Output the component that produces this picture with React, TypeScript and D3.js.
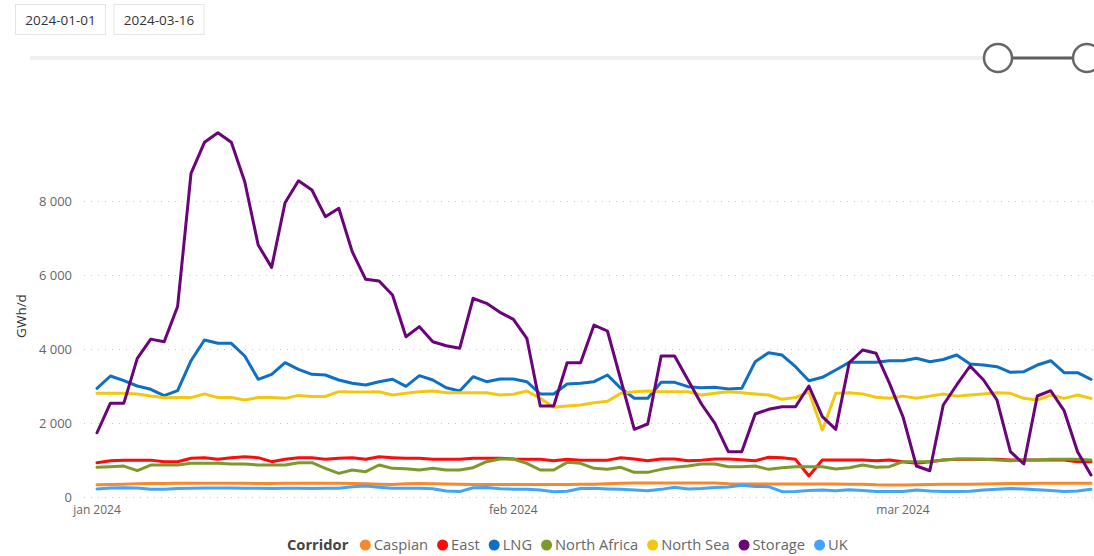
import React, { useMemo } from "react";
import * as d3 from "d3";

const startDate = "2024-01-01";
const endDate = "2024-03-15";
const slicerLabels = ["2024-01-01", "2024-03-16"];
const yTicks = [0, 2000, 4000, 6000, 8000];
const xTickDates = ["2024-01-01", "2024-02-01", "2024-03-01"];
const xTickLabels = ["jan 2024", "feb 2024", "mar 2024"];
const yAxisTitle = "GWh/d";
const legendTitle = "Corridor";

const seriesNames = ["Caspian", "East", "LNG", "North Africa", "North Sea", "Storage", "UK"];
const seriesColors = ["#F5892B", "#FF0A0A", "#0F6FC2", "#7A9A2B", "#F2C80F", "#6B037B", "#41A4FF"];

const caspian = [346,350,360,375,380,380,382,383,383,383,383,383,380,380,383,383,383,383,383,378,370,360,350,372,380,375,362,355,350,350,350,352,352,350,350,352,355,360,372,385,392,395,395,395,395,395,390,372,365,364,364,364,364,364,364,362,360,355,342,340,340,345,350,355,360,360,365,372,378,380,383,383,383,383,383];
const east = [941,995,1010,1010,1010,968,968,1059,1077,1032,1077,1100,1077,968,1032,1077,1077,1032,1059,1077,1032,1100,1077,1059,1059,1032,1032,1032,1059,1059,1059,1040,1032,1032,995,1032,1010,1010,1010,1077,1040,995,1040,1040,995,1010,1040,1040,1020,995,1086,1077,1032,581,1014,1014,1014,1014,995,1014,968,923,968,1014,1032,1032,1032,1032,1014,1014,1014,1014,1014,968,968];
const lng = [2951,3284,3157,3014,2924,2751,2886,3697,4257,4167,4167,3824,3195,3330,3643,3465,3330,3311,3176,3086,3041,3130,3195,3005,3292,3176,2968,2878,3265,3130,3203,3203,3130,2797,2797,3068,3086,3130,3311,2951,2681,2681,3113,3113,2995,2968,2977,2932,2950,3670,3914,3851,3535,3157,3248,3446,3653,3653,3653,3697,3697,3762,3670,3730,3851,3608,3580,3535,3384,3400,3580,3697,3375,3375,3195];
const northAfrica = [816,833,850,725,878,878,878,923,923,923,905,905,878,878,878,940,940,788,653,743,698,878,788,775,743,788,743,743,806,968,1040,1040,923,743,743,950,923,788,761,815,680,680,761,815,850,905,905,833,833,850,761,806,833,833,833,770,806,878,815,833,968,968,968,1014,1040,1040,1032,1014,995,1014,1014,1032,1032,1032,1014];
const northSea = [2815,2815,2815,2800,2743,2697,2700,2700,2800,2700,2700,2635,2700,2700,2680,2760,2730,2730,2860,2850,2850,2860,2770,2815,2860,2878,2830,2830,2830,2830,2770,2790,2878,2681,2438,2470,2500,2563,2600,2815,2860,2878,2860,2860,2860,2770,2815,2860,2830,2800,2770,2653,2700,2860,1824,2815,2830,2800,2710,2680,2740,2680,2740,2800,2740,2770,2800,2830,2815,2680,2635,2770,2680,2770,2680];
const storage = [1750,2550,2550,3760,4280,4210,5160,8760,9600,9860,9600,8535,6824,6220,7968,8562,8311,7590,7816,6644,5897,5851,5473,4346,4617,4211,4103,4032,5384,5249,5005,4816,4303,2473,2473,3643,3643,4662,4500,3176,1843,1986,3824,3824,3176,2527,2005,1238,1238,2257,2384,2454,2454,3014,2184,1843,3643,3986,3897,3086,2184,851,724,2500,3041,3554,3176,2635,1238,905,2743,2886,2346,1238,608];
const uk = [230,255,262,255,225,221,240,250,255,260,258,252,248,245,250,248,245,248,250,290,311,280,250,248,248,235,175,160,265,270,235,225,220,200,158,170,245,248,232,220,200,185,220,275,232,240,268,285,333,300,293,158,165,190,200,185,210,190,160,165,160,200,175,160,165,170,200,220,240,230,210,190,160,175,221];

const seriesValues = [caspian, east, lng, northAfrica, northSea, storage, uk];

const W = 1094;
const H = 556;
const FONT = "'Open Sans', 'Segoe UI', sans-serif";
const LEGEND_FS = 14.7;

function measure(text: string, font: string): number {
  const c = document.createElement("canvas").getContext("2d");
  if (!c) return text.length * 7;
  c.font = font;
  return c.measureText(text).width;
}

export default function App() {
  const parse = d3.timeParse("%Y-%m-%d");
  const days = d3.timeDay.range(parse(startDate)!, d3.timeDay.offset(parse(endDate)!, 1));

  const x = d3.scaleTime().domain([days[0], days[days.length - 1]]).range([97, 1091]);
  const y = d3.scaleLinear().domain([0, 8000]).range([497.5, 201.5]);

  const fmt = (v: number) => d3.format(",")(v).replace(/,/g, " ");

  const line = (vals: number[]) =>
    d3
      .line<number>()
      .x((_, i) => x(days[i]))
      .y((v) => y(v))(vals) || "";

  const legend = useMemo(() => {
    const items: { name: string; color: string; cx: number; tx: number }[] = [];
    const titleFont = `bold ${LEGEND_FS}px ${FONT}`;
    const itemFont = `${LEGEND_FS}px ${FONT}`;
    const titleW = measure(legendTitle, titleFont);
    const itemWs = seriesNames.map((n) => measure(n, itemFont));
    let pos = 287;
    const titleX = pos;
    pos += titleW + 17;
    seriesNames.forEach((n, i) => {
      items.push({ name: n, color: seriesColors[i], cx: pos, tx: pos + 8.5 });
      pos += 8.5 + itemWs[i] + 14.5;
    });
    return { titleX, items };
  }, []);

  return (
    <svg
      width={W}
      height={H}
      style={{ position: "absolute", left: 0, top: 0, background: "#fff", fontFamily: FONT }}
    >
      {slicerLabels.map((t, i) => (
        <g key={t} transform={`translate(${15.5 + i * 98.5},4.5)`}>
          <rect width={90} height={30} fill="#fff" stroke="#e4e4e4" strokeWidth={1} />
          <text x={45} y={20} textAnchor="middle" fontSize={13.5} fill="#333">
            {t}
          </text>
        </g>
      ))}
      <line x1={30} x2={984} y1={58} y2={58} stroke="#efefef" strokeWidth={4} />
      <line x1={998} x2={1086} y1={58} y2={58} stroke="#5f5f5f" strokeWidth={3} />
      <circle cx={998} cy={58} r={14} fill="#fff" stroke="#666" strokeWidth={2.5} />
      <circle cx={1087} cy={58} r={14} fill="#fff" stroke="#666" strokeWidth={2.5} />

      {yTicks.map((t) => (
        <g key={t}>
          <line
            x1={84}
            x2={W}
            y1={y(t)}
            y2={y(t)}
            stroke="#c8c8c8"
            strokeWidth={1}
            strokeDasharray="1,6"
          />
          <text x={72} y={y(t) + 4.5} textAnchor="end" fontSize={13} fill="#666">
            {fmt(t)}
          </text>
        </g>
      ))}
      <text
        transform={`translate(26,316) rotate(-90)`}
        textAnchor="middle"
        fontSize={13.5}
        fill="#333"
      >
        {yAxisTitle}
      </text>

      {xTickDates.map((d, i) => (
        <text key={d} x={x(parse(d)!)} y={514} textAnchor="middle" fontSize={12} fill="#666">
          {xTickLabels[i]}
        </text>
      ))}

      {seriesValues.map((vals, i) => (
        <path
          key={seriesNames[i]}
          d={line(vals)}
          fill="none"
          stroke={seriesColors[i]}
          strokeWidth={3}
          strokeLinejoin="round"
          strokeLinecap="round"
        />
      ))}

      <text x={legend.titleX} y={550} fontSize={LEGEND_FS} fontWeight="bold" fill="#444">
        {legendTitle}
      </text>
      {legend.items.map((it) => (
        <g key={it.name}>
          <circle cx={it.cx} cy={545} r={5.5} fill={it.color} />
          <text x={it.tx} y={550} fontSize={LEGEND_FS} fill="#666">
            {it.name}
          </text>
        </g>
      ))}
    </svg>
  );
}
